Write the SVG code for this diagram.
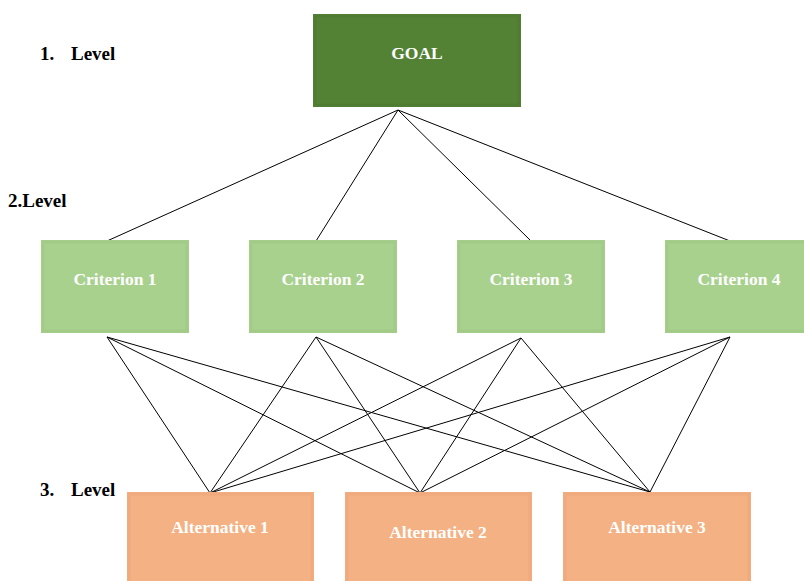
<svg xmlns="http://www.w3.org/2000/svg" width="804" height="581" viewBox="0 0 804 581">
<style>
.lvl{font-family:"Liberation Serif","Times New Roman",serif;font-weight:bold;font-size:19px;fill:#000}
.lbl{font-family:"Liberation Serif","Times New Roman",serif;font-weight:bold;font-size:17.5px;fill:#fff;text-anchor:middle}
.goal{fill:#548235}
.crit{fill:#a9d18e}
.alt{fill:#f4b183}
.bevel{fill:none;stroke-width:3;stroke-opacity:0.15}
.conn line{stroke:#000;stroke-width:1}
</style>
<rect width="804" height="581" fill="#fff"/>
<text class="lvl" x="40" y="60">1.</text>
<text class="lvl" x="71" y="60">Level</text>
<text class="lvl" x="8" y="207">2.Level</text>
<text class="lvl" x="40" y="496">3.</text>
<text class="lvl" x="71" y="496">Level</text>
<g id="connectors" class="conn">
<line x1="398" y1="110" x2="107" y2="241"/>
<line x1="398" y1="110" x2="316" y2="241"/>
<line x1="398" y1="110" x2="531" y2="241"/>
<line x1="398" y1="110" x2="730" y2="241"/>
<line x1="107" y1="337" x2="210" y2="493"/>
<line x1="107" y1="337" x2="420" y2="493"/>
<line x1="107" y1="337" x2="650" y2="492"/>
<line x1="316" y1="337" x2="210" y2="493"/>
<line x1="316" y1="337" x2="420" y2="493"/>
<line x1="316" y1="337" x2="650" y2="492"/>
<line x1="521" y1="338" x2="210" y2="493"/>
<line x1="521" y1="338" x2="420" y2="493"/>
<line x1="521" y1="338" x2="650" y2="492"/>
<line x1="730" y1="337" x2="210" y2="493"/>
<line x1="730" y1="337" x2="420" y2="493"/>
<line x1="730" y1="337" x2="650" y2="492"/>
</g>
<g id="goal">
<rect class="goal" x="313" y="14" width="208" height="93"/>
<rect class="bevel" x="315" y="16" width="204" height="89" stroke="#3a5e23"/>
<text class="lbl" x="417" y="59">GOAL</text>
</g>
<g id="criterion1">
<rect class="crit" x="41" y="240" width="148" height="93"/>
<rect class="bevel" x="43" y="242" width="144" height="89" stroke="#7fae65"/>
<text class="lbl" x="115" y="285">Criterion 1</text>
</g>
<g id="criterion2">
<rect class="crit" x="249" y="240" width="148" height="93"/>
<rect class="bevel" x="251" y="242" width="144" height="89" stroke="#7fae65"/>
<text class="lbl" x="323" y="285">Criterion 2</text>
</g>
<g id="criterion3">
<rect class="crit" x="457" y="240" width="148" height="93"/>
<rect class="bevel" x="459" y="242" width="144" height="89" stroke="#7fae65"/>
<text class="lbl" x="531" y="285">Criterion 3</text>
</g>
<g id="criterion4">
<rect class="crit" x="665" y="240" width="148" height="93"/>
<rect class="bevel" x="667" y="242" width="144" height="89" stroke="#7fae65"/>
<text class="lbl" x="739" y="285">Criterion 4</text>
</g>
<g id="alternative1">
<rect class="alt" x="127" y="492" width="187" height="95"/>
<rect class="bevel" x="129" y="494" width="183" height="95" stroke="#d98f5c"/>
<text class="lbl" x="220" y="533">Alternative 1</text>
</g>
<g id="alternative2">
<rect class="alt" x="345" y="492" width="187" height="95"/>
<rect class="bevel" x="347" y="494" width="183" height="95" stroke="#d98f5c"/>
<text class="lbl" x="438" y="538">Alternative 2</text>
</g>
<g id="alternative3">
<rect class="alt" x="563" y="492" width="188" height="95"/>
<rect class="bevel" x="565" y="494" width="184" height="95" stroke="#d98f5c"/>
<text class="lbl" x="657" y="533">Alternative 3</text>
</g>
</svg>
